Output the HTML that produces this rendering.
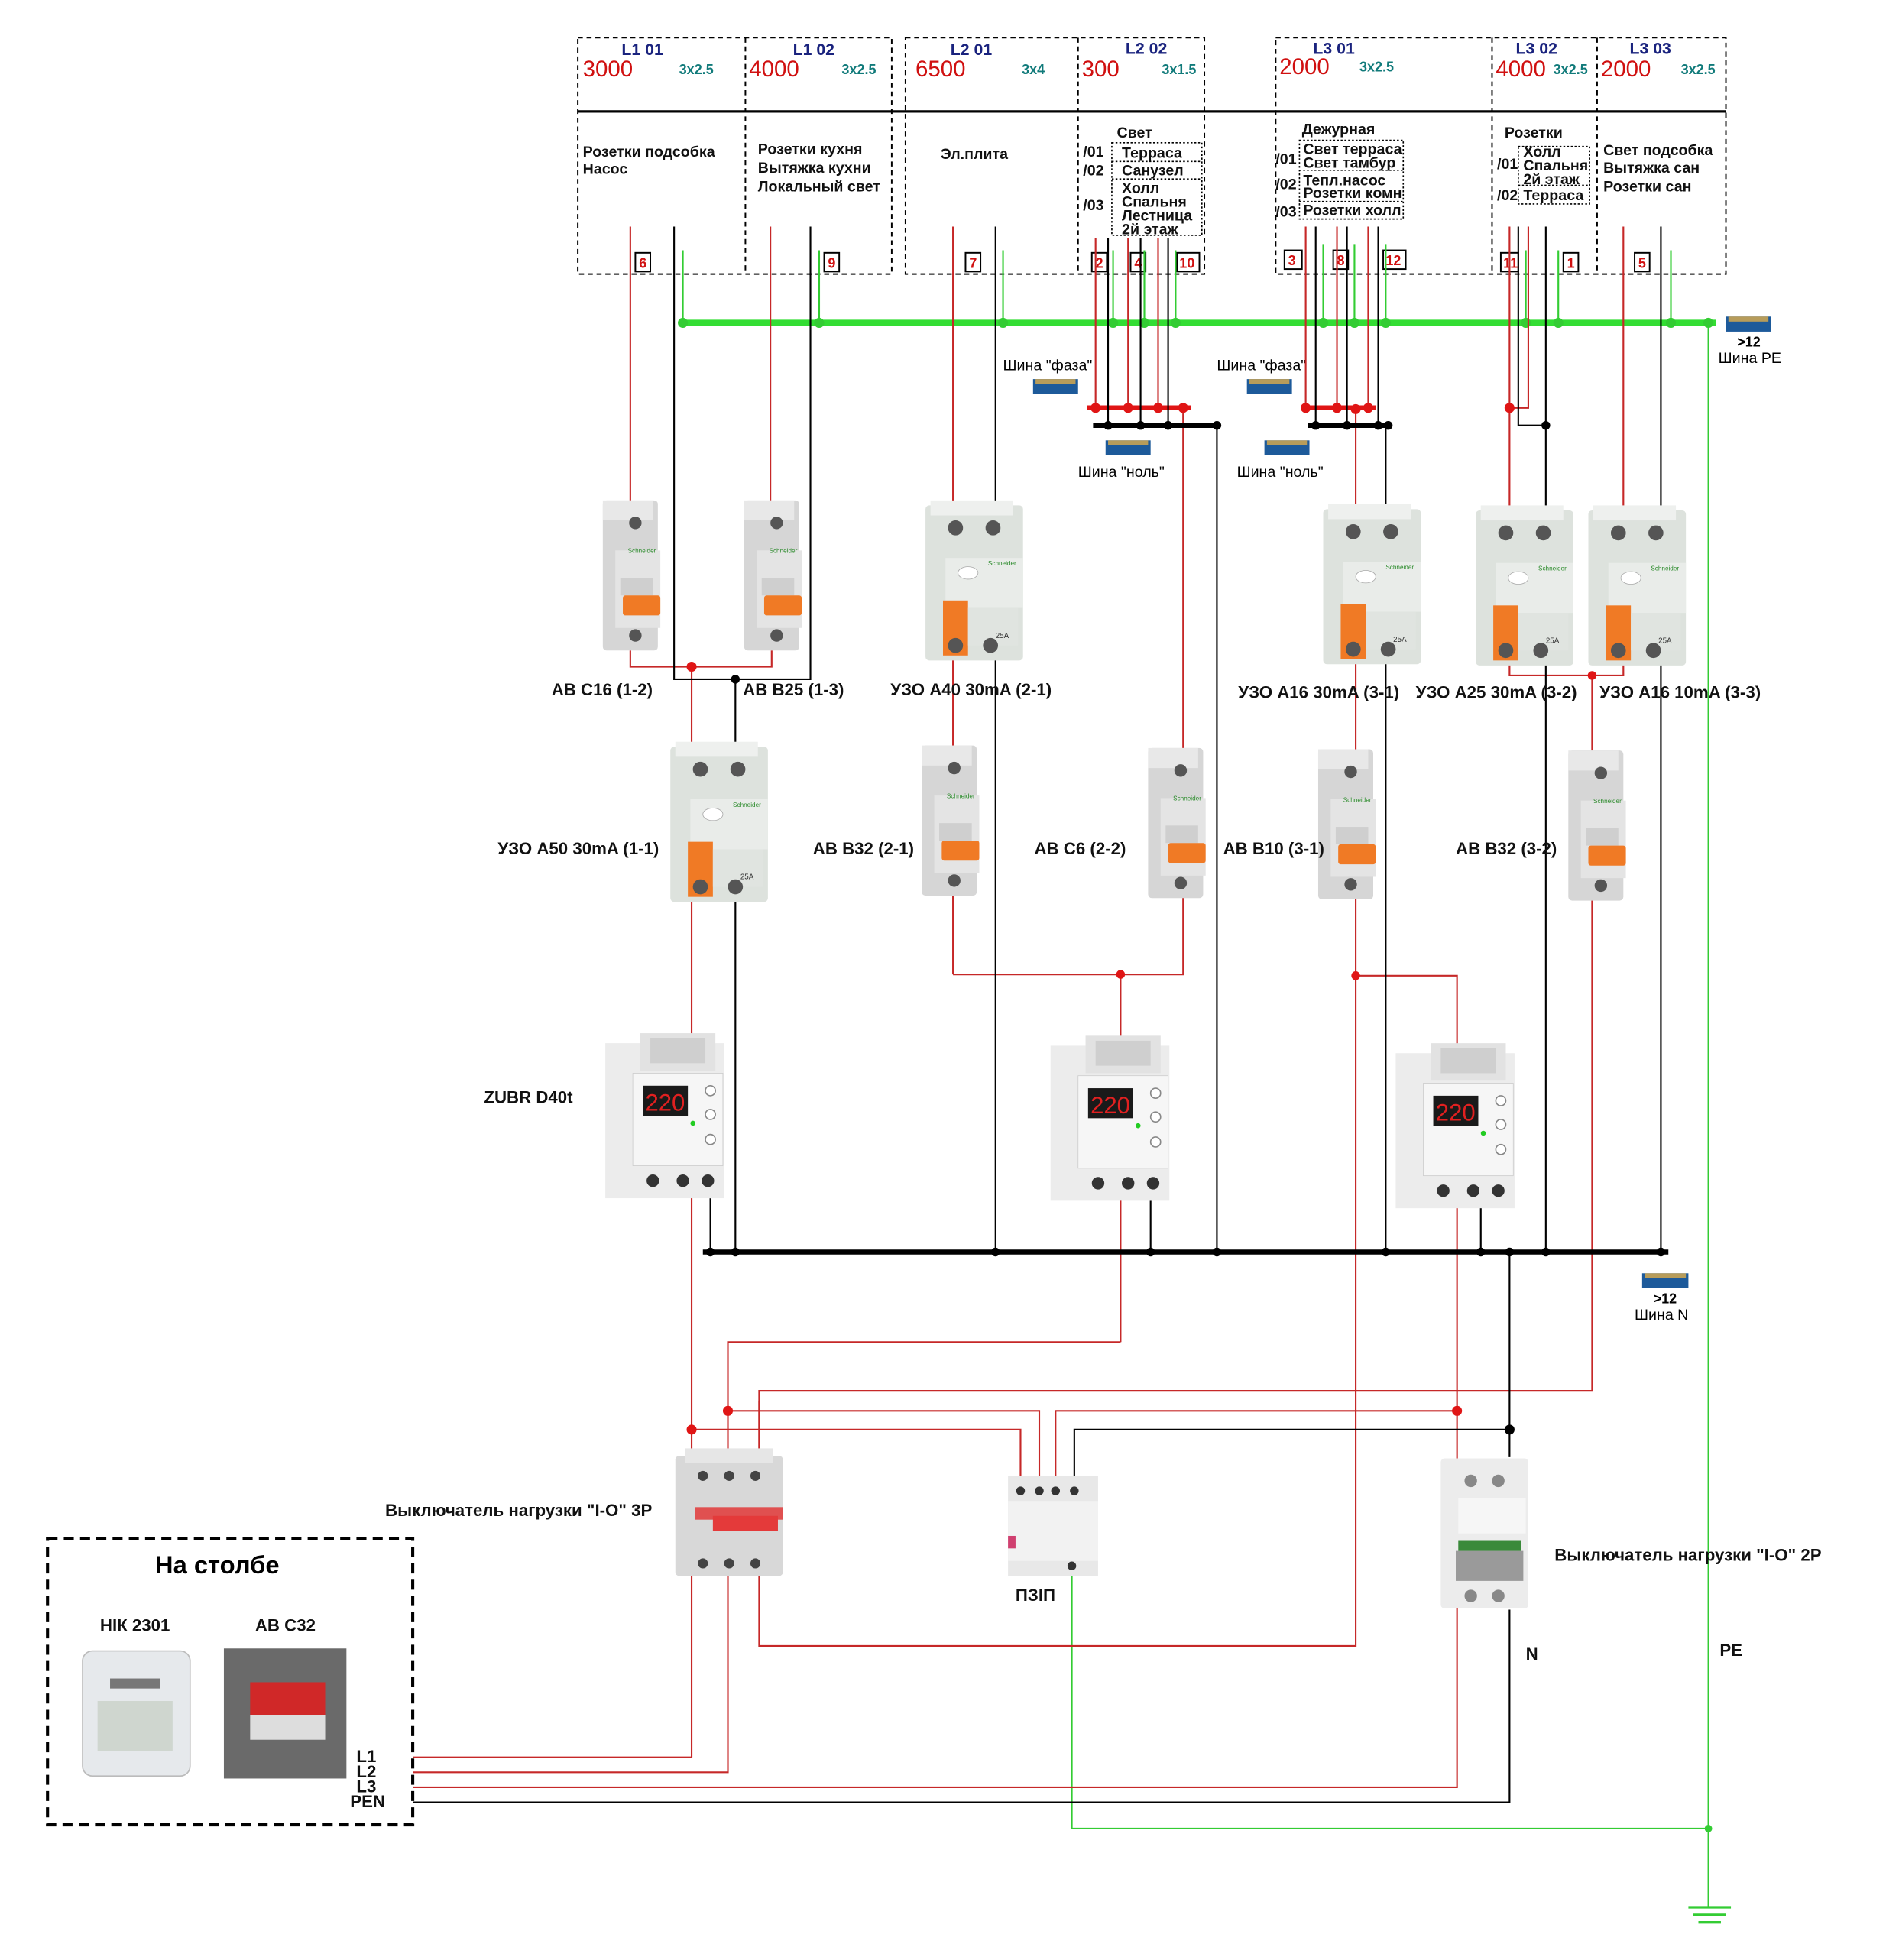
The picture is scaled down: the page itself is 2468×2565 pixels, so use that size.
<!DOCTYPE html>
<html><head><meta charset="utf-8"><style>
html,body{margin:0;padding:0;background:#fff}
svg{display:block}
text{font-family:"Liberation Sans",sans-serif}
.b{font-weight:bold;font-size:13.6px;fill:#111}
.d{font-weight:bold;font-size:12px;fill:#111}
.t{font-weight:bold;font-size:13px;fill:#1a237e}
.n{font-size:18px;fill:#d01010}
.s{font-weight:bold;font-size:11px;fill:#107a7a}
.nb{font-weight:bold;font-size:11px;fill:#d01010}
</style></head><body>
<svg width="2468" height="2565" viewBox="0 0 1508 1567" xmlns="http://www.w3.org/2000/svg">
<defs>
<g id="ab">
 <rect x="4" y="2" width="44" height="120" rx="3" fill="#d6d6d6"/>
 <rect x="4" y="2" width="40" height="16" fill="#e8e8e8"/>
 <rect x="14" y="42" width="36" height="62" fill="#e4e4e4"/>
 <circle cx="30" cy="20" r="5" fill="#555"/>
 <circle cx="30" cy="110" r="5" fill="#555"/>
 <rect x="18" y="64" width="26" height="14" fill="#cfcfcf"/>
 <rect x="20" y="78" width="30" height="16" rx="2" fill="#f07a25"/>
 <text x="24" y="44" font-size="5" fill="#2a8a2a">Schneider</text>
</g>
<g id="uzo">
 <rect x="0" y="4" width="78" height="124" rx="3" fill="#dde2dd"/>
 <rect x="4" y="0" width="66" height="12" fill="#eef0ee"/>
 <circle cx="24" cy="22" r="6" fill="#555"/>
 <circle cx="54" cy="22" r="6" fill="#555"/>
 <rect x="16" y="46" width="62" height="40" fill="#e9ece9"/>
 <ellipse cx="34" cy="58" rx="8" ry="5" fill="#fff" stroke="#aaa" stroke-width=".5"/>
 <rect x="14" y="80" width="20" height="44" fill="#f07a25"/>
 <rect x="34" y="86" width="40" height="30" fill="#e0e4e0"/>
 <circle cx="24" cy="116" r="6" fill="#555"/>
 <circle cx="52" cy="116" r="6" fill="#555"/>
 <text x="56" y="110" font-size="6" fill="#333">25A</text>
 <text x="50" y="52" font-size="5" fill="#2a8a2a">Schneider</text>
</g>
<g id="zubr">
 <rect x="0" y="8" width="95" height="124" fill="#ececec"/>
 <rect x="28" y="0" width="60" height="30" fill="#e2e2e2"/>
 <rect x="36" y="4" width="44" height="20" fill="#cfcfcf"/>
 <rect x="22" y="32" width="72" height="74" fill="#f6f6f6" stroke="#ccc" stroke-width=".5"/>
 <rect x="30" y="42" width="36" height="24" fill="#1a1a1a"/>
 <text x="32" y="62" font-size="19" fill="#e02020" font-family="Liberation Mono,monospace">220</text>
 <circle cx="84" cy="46" r="4" fill="#fff" stroke="#888"/>
 <circle cx="84" cy="65" r="4" fill="#fff" stroke="#888"/>
 <circle cx="84" cy="85" r="4" fill="#fff" stroke="#888"/>
 <circle cx="70" cy="72" r="2" fill="#2c2"/>
 <circle cx="38" cy="118" r="5" fill="#333"/>
 <circle cx="62" cy="118" r="5" fill="#333"/>
 <circle cx="82" cy="118" r="5" fill="#333"/>
</g>
</defs>

<g fill="none" stroke="#000" stroke-width="1.2" stroke-dasharray="4,3">
 <rect x="462" y="30" width="251" height="189"/>
 <line x1="596" y1="30" x2="596" y2="219"/>
 <rect x="724" y="30" width="239" height="189"/>
 <line x1="862" y1="30" x2="862" y2="219"/>
 <rect x="1020" y="30" width="360" height="189"/>
 <line x1="1193" y1="30" x2="1193" y2="219"/>
 <line x1="1277" y1="30" x2="1277" y2="219"/>
</g>
<line x1="462" y1="89" x2="1380" y2="89" stroke="#000" stroke-width="2"/>
<text class="t" x="497" y="44">L1 01</text><text class="n" x="466" y="61">3000</text><text class="s" x="543" y="59">3x2.5</text>
<text class="t" x="634" y="44">L1 02</text><text class="n" x="599" y="61">4000</text><text class="s" x="673" y="59">3x2.5</text>
<text class="t" x="760" y="44">L2 01</text><text class="n" x="732" y="61">6500</text><text class="s" x="817" y="59">3x4</text>
<text class="t" x="900" y="43">L2 02</text><text class="n" x="865" y="61">300</text><text class="s" x="929" y="59">3x1.5</text>
<text class="t" x="1050" y="43">L3 01</text><text class="n" x="1023" y="59">2000</text><text class="s" x="1087" y="57">3x2.5</text>
<text class="t" x="1212" y="43">L3 02</text><text class="n" x="1196" y="61">4000</text><text class="s" x="1242" y="59">3x2.5</text>
<text class="t" x="1303" y="43">L3 03</text><text class="n" x="1280" y="61">2000</text><text class="s" x="1344" y="59">3x2.5</text>

<text class="d" x="466" y="125">Розетки подсобка</text><text class="d" x="466" y="139">Насос</text>
<text class="d" x="606" y="123">Розетки кухня</text><text class="d" x="606" y="138">Вытяжка кухни</text><text class="d" x="606" y="153">Локальный свет</text>
<text class="d" x="752" y="127">Эл.плита</text>
<text class="d" x="893" y="110">Свет</text>
<g fill="none" stroke="#000" stroke-width="1" stroke-dasharray="1.5,1.5">
 <rect x="889" y="114" width="72" height="74"/><line x1="889" y1="129" x2="961" y2="129"/><line x1="889" y1="143" x2="961" y2="143"/>
 <rect x="1039" y="112" width="83" height="63"/><line x1="1039" y1="136" x2="1122" y2="136"/><line x1="1039" y1="161" x2="1122" y2="161"/>
 <rect x="1214" y="117" width="57" height="46"/><line x1="1214" y1="148" x2="1271" y2="148"/>
</g>
<text class="d" x="866" y="125">/01</text><text class="d" x="897" y="126">Терраса</text>
<text class="d" x="866" y="140">/02</text><text class="d" x="897" y="140">Санузел</text>
<text class="d" x="866" y="168">/03</text><text class="d" x="897" y="154">Холл</text><text class="d" x="897" y="165">Спальня</text><text class="d" x="897" y="176">Лестница</text><text class="d" x="897" y="187">2й этаж</text>
<text class="d" x="1041" y="107">Дежурная</text>
<text class="d" x="1020" y="131">/01</text><text class="d" x="1042" y="123">Свет терраса</text><text class="d" x="1042" y="134">Свет тамбур</text>
<text class="d" x="1020" y="151">/02</text><text class="d" x="1042" y="148">Тепл.насос</text><text class="d" x="1042" y="158">Розетки комн</text>
<text class="d" x="1020" y="173">/03</text><text class="d" x="1042" y="172">Розетки холл</text>
<text class="d" x="1203" y="110">Розетки</text>
<text class="d" x="1197" y="135">/01</text><text class="d" x="1218" y="125">Холл</text><text class="d" x="1218" y="136">Спальня</text><text class="d" x="1218" y="147">2й этаж</text>
<text class="d" x="1197" y="160">/02</text><text class="d" x="1218" y="160">Терраса</text>
<text class="d" x="1282" y="124">Свет подсобка</text><text class="d" x="1282" y="138">Вытяжка сан</text><text class="d" x="1282" y="153">Розетки сан</text>

<g fill="#fff" stroke="#000" stroke-width="1.2">
 <rect x="508" y="202" width="12" height="15"/><rect x="659" y="202" width="12" height="15"/><rect x="772" y="202" width="12" height="15"/>
 <rect x="873" y="202" width="12" height="15"/><rect x="904" y="202" width="12" height="15"/><rect x="941" y="202" width="18" height="15"/>
 <rect x="1027" y="200" width="14" height="15"/><rect x="1066" y="200" width="12" height="15"/><rect x="1106" y="200" width="18" height="15"/>
 <rect x="1200" y="202" width="14" height="15"/><rect x="1250" y="202" width="12" height="15"/><rect x="1307" y="202" width="12" height="15"/>
</g>
<text class="nb" x="511" y="214">6</text><text class="nb" x="662" y="214">9</text><text class="nb" x="775" y="214">7</text>
<text class="nb" x="876" y="214">2</text><text class="nb" x="907" y="214">4</text><text class="nb" x="943" y="214">10</text>
<text class="nb" x="1030" y="212">3</text><text class="nb" x="1069" y="212">8</text><text class="nb" x="1108" y="212">12</text>
<text class="nb" x="1202" y="214">11</text><text class="nb" x="1253" y="214">1</text><text class="nb" x="1310" y="214">5</text>

<g stroke="#3c3" stroke-width="1.3" fill="none">
 <line x1="546" y1="200" x2="546" y2="258"/><line x1="655" y1="200" x2="655" y2="258"/><line x1="802" y1="200" x2="802" y2="258"/>
 <line x1="890" y1="200" x2="890" y2="258"/><line x1="915" y1="200" x2="915" y2="258"/><line x1="940" y1="200" x2="940" y2="258"/>
 <line x1="1058" y1="195" x2="1058" y2="258"/><line x1="1083" y1="195" x2="1083" y2="258"/><line x1="1108" y1="195" x2="1108" y2="258"/>
 <line x1="1220" y1="200" x2="1220" y2="258"/><line x1="1246" y1="200" x2="1246" y2="258"/><line x1="1336" y1="200" x2="1336" y2="258"/>
 <polyline points="1366,258 1366,1525"/>
 <polyline points="857,1255 857,1462 1366,1462"/>
</g>
<line x1="546" y1="258" x2="1372" y2="258" stroke="#3d3" stroke-width="5"/>
<g fill="#3c3">
 <circle cx="546" cy="258" r="4"/><circle cx="655" cy="258" r="4"/><circle cx="802" cy="258" r="4"/><circle cx="890" cy="258" r="4"/><circle cx="915" cy="258" r="4"/><circle cx="940" cy="258" r="4"/>
 <circle cx="1058" cy="258" r="4"/><circle cx="1083" cy="258" r="4"/><circle cx="1108" cy="258" r="4"/><circle cx="1220" cy="258" r="4"/><circle cx="1246" cy="258" r="4"/><circle cx="1336" cy="258" r="4"/><circle cx="1366" cy="258" r="4"/><circle cx="1366" cy="1462" r="3"/>
</g>
<g stroke="#3c3" stroke-width="2"><line x1="1350" y1="1525" x2="1384" y2="1525"/><line x1="1354" y1="1531" x2="1380" y2="1531"/><line x1="1358" y1="1537" x2="1376" y2="1537"/></g>

<g fill="#1d5a9a"><rect x="1380" y="253" width="36" height="12"/><rect x="826" y="303" width="36" height="12"/><rect x="997" y="303" width="36" height="12"/><rect x="884" y="352" width="36" height="12"/><rect x="1011" y="352" width="36" height="12"/><rect x="1313" y="1018" width="37" height="12"/></g>
<g fill="#b79c5a"><rect x="1382" y="253" width="32" height="4"/><rect x="828" y="303" width="32" height="4"/><rect x="999" y="303" width="32" height="4"/><rect x="886" y="352" width="32" height="4"/><rect x="1013" y="352" width="32" height="4"/><rect x="1315" y="1018" width="33" height="4"/></g>
<text x="1389" y="277" font-size="11" font-weight="bold">&gt;12</text>
<text x="1374" y="290" font-size="12">Шина PE</text>
<text x="802" y="296" font-size="12">Шина "фаза"</text>
<text x="973" y="296" font-size="12">Шина "фаза"</text>
<text x="862" y="381" font-size="12">Шина "ноль"</text>
<text x="989" y="381" font-size="12">Шина "ноль"</text>
<text x="1322" y="1042" font-size="11" font-weight="bold">&gt;12</text>
<text x="1307" y="1055" font-size="12">Шина N</text>

<g stroke="#c62828" stroke-width="1.3" fill="none">
 <polyline points="504,181 504,400"/><polyline points="504,520 504,533 617,533 617,520"/><line x1="616" y1="181" x2="616" y2="400"/>
 <line x1="553" y1="533" x2="553" y2="1405"/>
 <line x1="762" y1="181" x2="762" y2="779"/><polyline points="762,779 946,779 946,326"/><line x1="896" y1="779" x2="896" y2="1073"/>
 <polyline points="896,1073 582,1073 582,1417 330,1417"/>
 <polyline points="553,1405 330,1405"/>
 <line x1="876" y1="190" x2="876" y2="326"/><line x1="902" y1="190" x2="902" y2="326"/><line x1="926" y1="190" x2="926" y2="326"/>
 <line x1="1044" y1="181" x2="1044" y2="326"/><line x1="1069" y1="181" x2="1069" y2="326"/><line x1="1094" y1="181" x2="1094" y2="326"/>
 <polyline points="1084,326 1084,1316 607,1316 607,1120"/>
 <polyline points="1084,780 1165,780 1165,1429 330,1429"/>
 <polyline points="1207,181 1207,540 1273,540"/><polyline points="1222,181 1222,326 1207,326"/>
 <polyline points="1298,181 1298,540 1273,540"/>
 <polyline points="1273,540 1273,1112 607,1112 607,1160"/>
 <polyline points="582,1128 831,1128 831,1180"/>
 <polyline points="844,1180 844,1128 1165,1128"/>
 <polyline points="553,1143 816,1143 816,1180"/>
</g>
<line x1="869" y1="326" x2="952" y2="326" stroke="#e01515" stroke-width="4"/>
<line x1="1041" y1="326" x2="1100" y2="326" stroke="#e01515" stroke-width="4"/>
<g fill="#e01515">
 <circle cx="553" cy="533" r="4"/><circle cx="896" cy="779" r="3.5"/><circle cx="1084" cy="780" r="3.5"/><circle cx="1273" cy="540" r="3.5"/>
 <circle cx="876" cy="326" r="4"/><circle cx="902" cy="326" r="4"/><circle cx="926" cy="326" r="4"/><circle cx="946" cy="326" r="4"/>
 <circle cx="1044" cy="326" r="4"/><circle cx="1069" cy="326" r="4"/><circle cx="1084" cy="327" r="4"/><circle cx="1094" cy="326" r="4"/><circle cx="1207" cy="326" r="4"/>
 <circle cx="553" cy="1143" r="4"/><circle cx="582" cy="1128" r="4"/><circle cx="1165" cy="1128" r="4"/>
</g>

<g stroke="#000" stroke-width="1.3" fill="none">
 <polyline points="539,181 539,543 648,543 648,181"/>
 <line x1="588" y1="543" x2="588" y2="1001"/><line x1="568" y1="958" x2="568" y2="1001"/>
 <line x1="796" y1="181" x2="796" y2="1001"/><line x1="920" y1="960" x2="920" y2="1001"/>
 <line x1="886" y1="190" x2="886" y2="340"/><line x1="912" y1="190" x2="912" y2="340"/><line x1="934" y1="190" x2="934" y2="340"/>
 <line x1="973" y1="340" x2="973" y2="1001"/>
 <line x1="1052" y1="181" x2="1052" y2="340"/><line x1="1077" y1="181" x2="1077" y2="340"/><line x1="1102" y1="181" x2="1102" y2="340"/>
 <line x1="1108" y1="340" x2="1108" y2="1001"/>
 <polyline points="1214,181 1214,340 1236,340"/><line x1="1236" y1="181" x2="1236" y2="1001"/>
 <line x1="1328" y1="181" x2="1328" y2="1001"/><line x1="1184" y1="965" x2="1184" y2="1001"/>
 <line x1="1207" y1="1001" x2="1207" y2="1165"/><polyline points="859,1180 859,1143 1207,1143"/>
 <polyline points="1207,1287 1207,1441 330,1441"/>
</g>
<line x1="874" y1="340" x2="973" y2="340" stroke="#000" stroke-width="4"/>
<line x1="1046" y1="340" x2="1112" y2="340" stroke="#000" stroke-width="4"/>
<line x1="562" y1="1001" x2="1334" y2="1001" stroke="#000" stroke-width="4"/>
<g fill="#000">
 <circle cx="588" cy="543" r="3.5"/><circle cx="886" cy="340" r="3.5"/><circle cx="912" cy="340" r="3.5"/><circle cx="934" cy="340" r="3.5"/><circle cx="973" cy="340" r="3.5"/>
 <circle cx="1052" cy="340" r="3.5"/><circle cx="1077" cy="340" r="3.5"/><circle cx="1102" cy="340" r="3.5"/><circle cx="1110" cy="340" r="3.5"/><circle cx="1236" cy="340" r="3.5"/>
 <circle cx="568" cy="1001" r="3.5"/><circle cx="588" cy="1001" r="3.5"/><circle cx="796" cy="1001" r="3.5"/><circle cx="920" cy="1001" r="3.5"/><circle cx="973" cy="1001" r="3.5"/><circle cx="1108" cy="1001" r="3.5"/><circle cx="1184" cy="1001" r="3.5"/><circle cx="1207" cy="1001" r="3.5"/><circle cx="1236" cy="1001" r="3.5"/><circle cx="1328" cy="1001" r="3.5"/><circle cx="1207" cy="1143" r="4"/>
</g>

<use href="#ab" x="478" y="398"/>
<use href="#ab" x="591" y="398"/>
<use href="#uzo" x="740" y="400"/>
<use href="#uzo" x="1058" y="403"/>
<use href="#uzo" x="1180" y="404"/>
<use href="#uzo" x="1270" y="404"/>
<use href="#uzo" x="536" y="593"/>
<use href="#ab" x="733" y="594"/>
<use href="#ab" x="914" y="596"/>
<use href="#ab" x="1050" y="597"/>
<use href="#ab" x="1250" y="598"/>
<use href="#zubr" x="484" y="826"/>
<use href="#zubr" x="840" y="828"/>
<use href="#zubr" x="1116" y="834"/>

<g>
 <rect x="540" y="1164" width="86" height="96" rx="3" fill="#d8d8d8"/>
 <rect x="548" y="1158" width="70" height="12" fill="#e6e6e6"/>
 <circle cx="562" cy="1180" r="4" fill="#444"/><circle cx="583" cy="1180" r="4" fill="#444"/><circle cx="604" cy="1180" r="4" fill="#444"/>
 <rect x="556" y="1205" width="70" height="10" fill="#e05050"/>
 <rect x="570" y="1212" width="52" height="12" fill="#e43a3a"/>
 <circle cx="562" cy="1250" r="4" fill="#444"/><circle cx="583" cy="1250" r="4" fill="#444"/><circle cx="604" cy="1250" r="4" fill="#444"/>
</g>
<g>
 <rect x="806" y="1180" width="72" height="80" fill="#e8e8e8"/>
 <rect x="806" y="1200" width="72" height="48" fill="#f2f2f2"/>
 <circle cx="816" cy="1192" r="3.5" fill="#333"/><circle cx="831" cy="1192" r="3.5" fill="#333"/><circle cx="844" cy="1192" r="3.5" fill="#333"/><circle cx="859" cy="1192" r="3.5" fill="#333"/>
 <rect x="806" y="1228" width="6" height="10" fill="#d04070"/>
 <circle cx="857" cy="1252" r="3.5" fill="#333"/>
</g>
<g>
 <rect x="1152" y="1166" width="70" height="120" rx="3" fill="#ececec"/>
 <circle cx="1176" cy="1184" r="5" fill="#888"/><circle cx="1198" cy="1184" r="5" fill="#888"/>
 <rect x="1166" y="1198" width="54" height="28" fill="#f6f6f6"/>
 <rect x="1164" y="1240" width="54" height="24" fill="#9a9a9a"/>
 <rect x="1166" y="1232" width="50" height="8" fill="#3a8a3a"/>
 <circle cx="1176" cy="1276" r="5" fill="#888"/><circle cx="1198" cy="1276" r="5" fill="#888"/>
</g>

<text class="b" x="441" y="556">АВ С16 (1-2)</text>
<text class="b" x="594" y="556">АВ В25 (1-3)</text>
<text class="b" x="712" y="556">УЗО А40 30mA (2-1)</text>
<text class="b" x="990" y="558">УЗО А16 30mA (3-1)</text>
<text class="b" x="1132" y="558">УЗО А25 30mA (3-2)</text>
<text class="b" x="1279" y="558">УЗО А16 10mA (3-3)</text>
<text class="b" x="398" y="683">УЗО А50 30mA (1-1)</text>
<text class="b" x="650" y="683">АВ В32 (2-1)</text>
<text class="b" x="827" y="683">АВ С6 (2-2)</text>
<text class="b" x="978" y="683">АВ В10 (3-1)</text>
<text class="b" x="1164" y="683">АВ В32 (3-2)</text>
<text class="b" x="387" y="882">ZUBR D40t</text>
<text class="b" x="308" y="1212">Выключатель нагрузки "I-O" 3P</text>
<text class="b" x="812" y="1280">ПЗІП</text>
<text class="b" x="1243" y="1248">Выключатель нагрузки "I-O" 2P</text>
<text class="b" x="1220" y="1327">N</text>
<text class="b" x="1375" y="1324">PE</text>

<rect x="38" y="1230" width="292" height="229" fill="none" stroke="#000" stroke-width="2.5" stroke-dasharray="8,5"/>
<text x="124" y="1258" font-size="20" font-weight="bold">На столбе</text>
<text class="b" x="80" y="1304">НІК 2301</text>
<text class="b" x="204" y="1304">АВ С32</text>
<rect x="66" y="1320" width="86" height="100" rx="8" fill="#e6e9ec" stroke="#bbb"/>
<rect x="88" y="1342" width="40" height="8" fill="#777"/>
<rect x="78" y="1360" width="60" height="40" fill="#cfd6cf"/>
<rect x="179" y="1318" width="98" height="104" fill="#6a6a6a"/>
<rect x="200" y="1345" width="60" height="26" fill="#d02828"/>
<rect x="200" y="1371" width="60" height="20" fill="#ddd"/>
<text class="b" x="285" y="1409">L1</text>
<text class="b" x="285" y="1421">L2</text>
<text class="b" x="285" y="1433">L3</text>
<text class="b" x="280" y="1445">PEN</text>
</svg>
</body></html>
